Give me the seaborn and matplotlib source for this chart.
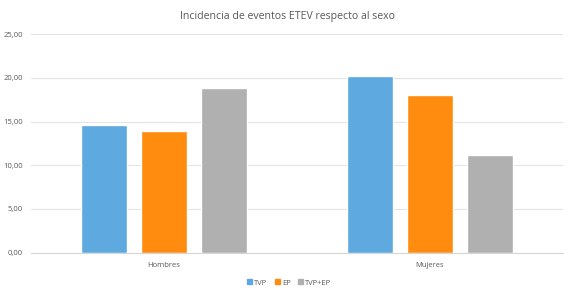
import numpy as np
import pandas as pd
import matplotlib
matplotlib.use("Agg")
import matplotlib.pyplot as plt
import seaborn as sns

# values
sexos = ["Hombres", "Mujeres"]
eventos = ["TVP", "EP", "TVP+EP"]
tvp = [14.55, 20.2]
ep = [13.95, 18.05]
tvp_ep = [18.8, 11.15]
colores = ["#5DA9E0", "#FF8C0F", "#B0B0B0"]

df = pd.DataFrame({
    "sexo": sexos * 3,
    "evento": [e for e in eventos for _ in sexos],
    "valor": tvp + ep + tvp_ep,
})

sns.set_style("white")
plt.rcParams["font.family"] = ["Open Sans", "DejaVu Sans"]

fig = plt.figure(figsize=(5.73, 2.97), dpi=100)
ax = fig.add_axes([0.0545, 0.149, 0.9272, 0.7365])

sns.barplot(data=df, x="sexo", y="valor", hue="evento", hue_order=eventos,
            palette=colores, width=0.677, gap=0.233, ax=ax,
            errorbar=None, saturation=1, legend=False)

ax.set_xlim(-0.5, 1.5)
ax.set_ylim(0, 25)
ax.set_yticks(np.arange(0, 26, 5))
ax.set_yticklabels([f"{v:.2f}".replace(".", ",") for v in np.arange(0, 26, 5)])
ax.grid(axis="y", color="#E4E4E4", linewidth=0.8)
ax.set_axisbelow(True)
sns.despine(ax=ax, left=True, top=True, right=True)
ax.spines["bottom"].set_color("#D6D6D6")
ax.tick_params(axis="both", length=0, labelsize=5.5, labelcolor="#595959")
ax.tick_params(axis="y", pad=6)
ax.tick_params(axis="x", pad=7)
ax.set_xlabel("")
ax.set_ylabel("")

fig.suptitle("Incidencia de eventos ETEV respecto al sexo", x=0.502, y=0.962,
             fontsize=7.6, color="#595959")

handles = [plt.Rectangle((0, 0), 1, 1, color=c) for c in colores]
fig.legend(handles, eventos, loc="center", bbox_to_anchor=(0.505, 0.047), ncol=3,
           frameon=False, fontsize=5.5, labelcolor="#595959", handlelength=0.6,
           handleheight=0.6, handletextpad=0.3, columnspacing=1.0)

fig.savefig("out.png", dpi=100)
